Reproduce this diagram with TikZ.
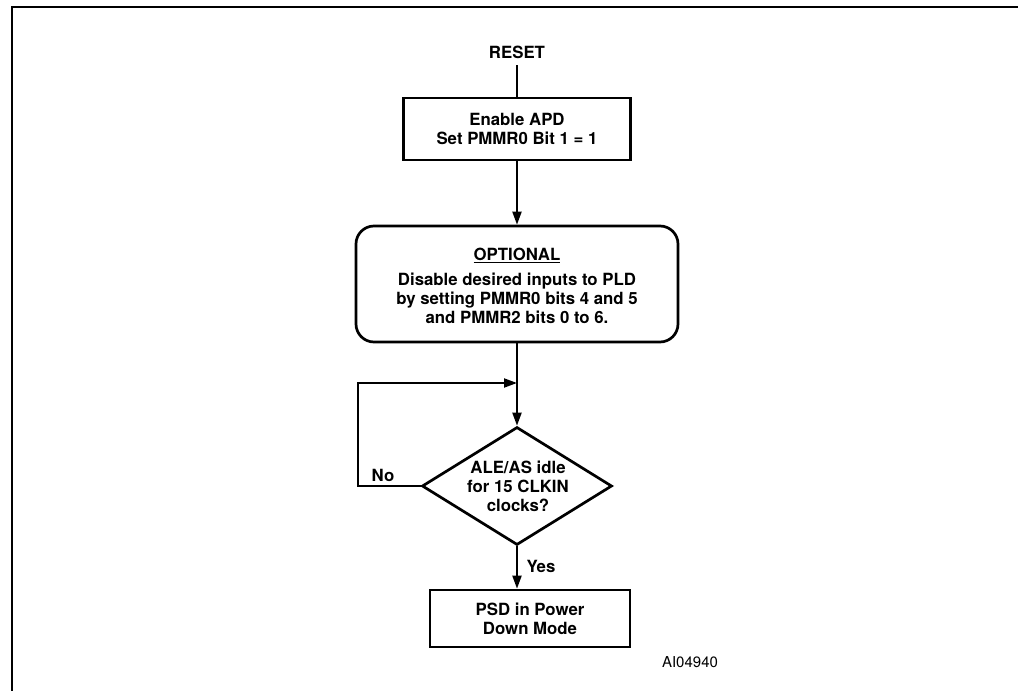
\documentclass[tikz,border=0pt]{standalone}
\usepackage{fontspec}
\setmainfont{TeX Gyre Heros}
\usetikzlibrary{arrows.meta,shapes.geometric}
\begin{document}
\begin{tikzpicture}[x=1pt,y=-1pt,
  box/.style={draw,line width=2.7pt,font=\bfseries\fontsize{16.8}{19}\selectfont,align=center,inner sep=0pt},
  conn/.style={line width=2pt},
  arr/.style={conn,-{Triangle[length=13pt,width=9pt]}},
  lbl/.style={font=\bfseries\fontsize{16.8}{19}\selectfont,inner sep=0pt}]
\useasboundingbox (0,0) rectangle (1018,691);
\draw[line width=2.8pt] (12,691) -- (12,7) -- (1018,7);
\node[lbl] (reset) at (517,52) {RESET};
\node[box,minimum width=227pt,minimum height=62pt] (apd) at (517,129) {Enable APD\\Set PMMR0 Bit 1 = 1};
\node[box,rounded corners=18pt,minimum width=322pt,minimum height=116pt] (opt) at (517,284) {};
\node[lbl] (optt) at (517,255) {\underline{OPTIONAL}};
\node[lbl,align=center] (optd) at (517,298) {Disable desired inputs to PLD\\by setting PMMR0 bits 4 and 5\\and PMMR2 bits 0 to 6.};
\node[box,diamond,minimum width=190pt,minimum height=118pt,aspect=1.6] (dec) at (517,486) {};
\node[lbl,align=center] at (518,486) {ALE/AS idle\\for 15 CLKIN\\clocks?};
\node[box,minimum width=200pt,minimum height=57pt] (pd) at (530,618.5) {PSD in Power\\Down Mode};
\node[font=\fontsize{15}{17}\selectfont,inner sep=0pt] (ai) at (690,662) {AI04940};
\coordinate (c1) at (358,486);
\coordinate (c2) at (358,383);
\coordinate (c3) at (517,383);
\draw[conn] (apd.north |- 0,65) -- (apd.north);
\draw[arr] (apd.south) -- (opt.north);
\draw[arr] (opt.south) -- (dec.north);
\draw[arr] (dec.west) -- (c1) -- (c2) -- (c3);
\node[lbl] (no) at (383,475) {No};
\draw[arr] (dec.south) -- (dec.south |- pd.north);
\node[lbl] (yes) at (541,566) {Yes};
\end{tikzpicture}
\end{document}
